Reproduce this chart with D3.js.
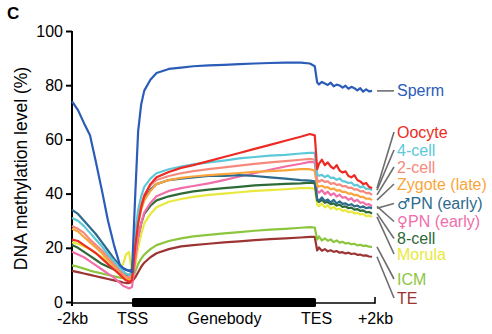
<!DOCTYPE html>
<html>
<head>
<meta charset="utf-8">
<script src="https://cdn.jsdelivr.net/npm/d3@7"></script>
<style>
  body { margin: 0; background: #fff; }
  svg { font-family: "Liberation Sans", Arial, sans-serif; }
</style>
</head>
<body>
<div id="chart"></div>
<script>
// Bin positions: 0 = -2kb, 20 = TSS, 80 = TES, 100 = +2kb
const pos = [0, 2, 4, 6, 8, 10, 12, 14, 16, 17, 18, 19, 20,
  21, 22, 23, 24, 26, 28, 32, 36, 40, 45, 50, 55, 60, 65, 70, 75, 78, 79.6,
  80.4, 81, 82, 83, 84, 85, 86, 87, 88, 89, 90, 91, 92, 93, 94, 95, 96, 97, 98, 99];

const sperm = [74, 70.8, 66, 61.5, 51.5, 41, 30, 21, 13.5, 12.5, 11.8, 11.5, 11,
  38, 63, 73, 78, 82, 84.5, 86, 86.5, 87, 87.3, 87.5, 87.8, 88, 88.2, 88.3, 88.3, 88, 87,
  81, 80.3, 81.2, 80.6, 80.1, 80.9, 79.6, 80.2, 79.9, 79.1, 79.8, 78.7, 79.4, 78.9, 78.1, 78.9, 77.6, 78.5, 77.7, 77.9];
const oocyte = [23, 22.5, 21, 19.5, 18, 16, 14, 12, 10, 9, 8, 7.5, 8,
  20, 29, 35, 39, 43.5, 46, 48, 49.5, 50.5, 52, 53.5, 55, 56.5, 58, 59.5, 61, 62, 61.5,
  49, 51, 52.5, 50.5, 51.5, 50, 49.2, 50.5, 48.5, 47.8, 48.2, 46.5, 46, 46.8, 45, 44.5, 43.5, 43.9, 42.5, 42];
const cell4 = [31, 30, 28, 25.5, 23, 20.5, 17.5, 15, 12.5, 11.5, 10.5, 10, 11,
  25, 34, 39, 42.5, 45.5, 47.5, 49, 50, 50.8, 51.5, 52.2, 53, 53.5, 54, 54.3, 54.8, 55, 55,
  47, 46.6, 46.9, 46.1, 46.7, 45.8, 45.9, 45.1, 45.6, 44.6, 44.4, 43.9, 44.1, 43, 43.2, 42.3, 42.7, 41.7, 41.9, 41.3];
const cell2 = [28, 27, 25.5, 23, 21, 19, 16.5, 14, 11.5, 10.5, 9.5, 9, 9.5,
  22, 31, 36, 39.5, 43, 45, 46.5, 47.5, 48.3, 49, 49.7, 50.3, 51, 51.5, 52, 52.5, 52.8, 52.5,
  45, 44.4, 45, 44.3, 44.5, 43.6, 43.9, 43.2, 43.4, 42.7, 42.8, 42.1, 42.2, 41.5, 41.6, 40.8, 40.9, 40.2, 40.3, 39.5];
const zygote = [27, 26, 24, 22, 20, 18, 15.5, 13, 10.5, 9.5, 8.5, 8, 8.5,
  20, 29, 34, 37.5, 41, 43.5, 45, 45.8, 46.3, 46.8, 47.2, 47.6, 48, 48.3, 48.6, 49, 49, 48.5,
  43, 42.6, 42.9, 42.2, 42.4, 41.6, 41.9, 41.1, 41.3, 40.6, 40.6, 40, 40.1, 39.4, 39.5, 38.8, 38.8, 38.1, 38.2, 37.6];
const malePN = [34, 32.5, 30, 27.5, 25, 22, 19, 16, 13.5, 12.5, 12, 11.5, 12,
  22, 30, 35, 38, 41.5, 43.5, 45, 45.5, 46, 46.5, 46.5, 46.8, 46.5, 46, 45.5, 45, 44.8, 44.5,
  38, 37.4, 38.6, 37.2, 37.8, 36.7, 37.7, 36.4, 37.1, 36.2, 36.4, 35.7, 36.1, 35.3, 35.6, 34.9, 35.3, 34.6, 34.9, 34.6];
const femalePN = [18.5, 17.5, 16.5, 15, 13.5, 12, 10.5, 9, 7, 6, 5.5, 5, 5.5,
  15, 24, 29, 33, 36.5, 39, 41, 42, 42.8, 43.8, 45, 46.3, 47.5, 48.8, 50, 51, 51.7, 51.5,
  41, 40.3, 41.3, 39.8, 40.7, 39.4, 40.1, 38.9, 39.6, 38.5, 38.7, 37.7, 38.3, 37.1, 37.7, 36.6, 36.8, 35.9, 36.1, 35.3];
const cell8 = [21, 20, 18.5, 17, 15.5, 14, 13, 12, 11, 10.5, 10, 10, 10.5,
  17, 24, 29, 32.5, 35.5, 37.5, 39, 40, 40.8, 41.5, 42, 42.5, 43, 43.3, 43.6, 43.8, 44, 43.8,
  37.5, 36.9, 37.7, 36.6, 36.9, 36.1, 36.4, 35.6, 35.9, 35.1, 35.3, 34.6, 34.8, 34.1, 34.3, 33.6, 33.8, 33.1, 33.2, 32.7];
const morula = [22, 21.5, 20.5, 19.5, 18, 16.5, 15, 14, 13, 14, 17.5, 18.5, 11,
  13, 20, 25, 29, 32.5, 35, 37, 38, 38.8, 39.5, 40, 40.5, 41, 41.3, 41.6, 42, 42, 41.8,
  36, 35.4, 36.3, 34.9, 35.7, 34.4, 35.1, 34.1, 34.5, 33.6, 33.9, 33.1, 33.4, 32.7, 32.9, 32.3, 32.5, 31.7, 31.9, 31.4];
const icm = [13.5, 13, 12.3, 11.6, 11, 10.5, 10, 9.5, 9, 8.8, 8.5, 8.5, 9,
  11, 14, 16, 17.5, 19.5, 21, 22.5, 23.5, 24.2, 24.8, 25.3, 25.8, 26.3, 26.7, 27, 27.4, 27.6, 27.5,
  23, 24.2, 22.7, 23.5, 22.6, 23.1, 22.1, 22.7, 21.9, 22.2, 21.6, 21.8, 21.3, 21.5, 20.9, 21.1, 20.7, 20.8, 20.4, 20.3];
const te = [11.5, 11, 10.5, 10, 9.5, 9, 8.5, 8, 7.5, 7.2, 7, 7, 7.5,
  9, 11, 13, 14.5, 16.5, 18, 19.5, 20.5, 21, 21.5, 22, 22.4, 22.8, 23.2, 23.5, 23.8, 24, 24,
  19, 20.1, 18.9, 19.5, 18.7, 19.1, 18.5, 18.8, 18.2, 18.4, 17.9, 18.2, 17.7, 17.9, 17.4, 17.5, 17.1, 17.2, 16.8, 16.7];

const seriesNames = ["Sperm", "Oocyte", "4-cell", "2-cell", "Zygote (late)", "♂PN (early)",
  "♀PN (early)", "8-cell", "Morula", "ICM", "TE"];
const seriesValues = [sperm, oocyte, cell4, cell2, zygote, malePN, femalePN, cell8, morula, icm, te];
const colors = ["#2b5cb8", "#ee2a24", "#5cc8d8", "#f58a7c", "#f9a53c", "#2c6a8e",
  "#f06eaa", "#2e6a38", "#e9e83c", "#8cc63f", "#9b3533"];

const xTickPos = [0, 20, 50, 80, 100];
const xTickLabels = ["-2kb", "TSS", "Genebody", "TES", "+2kb"];
const yTicks = [0, 20, 40, 60, 80, 100];

// legend label vertical positions (layout only)
const labelY = [null, 132, 150, 167, 184, 203.5, 221.5, 238.5, 254, 279, 298];

const W = 492, H = 334;
const svg = d3.select("#chart").append("svg")
    .attr("width", W)
    .attr("height", H);

// piecewise x scale so the gene body gets its own width
const x = d3.scaleLinear()
    .domain([0, 20, 80, 100])
    .range([72, 132, 316, 375]);

const y = d3.scaleLinear()
    .domain([0, 100])
    .range([302, 31]);

// panel letter
svg.append("text")
    .attr("x", 7).attr("y", 19)
    .attr("font-size", 17).attr("font-weight", "bold")
    .text("C");

// y axis title
svg.append("text")
    .attr("transform", `translate(27,${(y(0) + y(100)) / 2 + 2}) rotate(-90)`)
    .attr("text-anchor", "middle")
    .attr("font-size", 17.5)
    .text("DNA methylation level (%)");

// y axis
const yAxis = svg.append("g")
    .attr("transform", "translate(72,0)")
    .call(d3.axisLeft(y).tickValues(yTicks).tickSize(6).tickPadding(3).tickFormat(d3.format("d")));
yAxis.select(".domain").attr("stroke-width", 2).attr("d", `M0,${y(100)}V${y(0) + 4}`);
yAxis.selectAll(".tick line").attr("stroke-width", 2);
yAxis.selectAll(".tick text").attr("font-size", 16).attr("fill", "#000");

// x axis
const xAxis = svg.append("g")
    .attr("transform", `translate(0,${y(0) + 1})`)
    .call(d3.axisBottom(x).tickValues(xTickPos).tickSize(0).tickPadding(10)
        .tickFormat((d, i) => xTickLabels[i]));
xAxis.select(".domain").attr("stroke-width", 1.6).attr("d", `M${x(0)},0H${x(100)}`);
xAxis.selectAll(".tick text").attr("font-size", 16).attr("fill", "#000");

// +2kb end tick
svg.append("line")
    .attr("x1", x(100)).attr("x2", x(100))
    .attr("y1", y(0) - 5).attr("y2", y(0) + 1.8)
    .attr("stroke", "#000").attr("stroke-width", 1.6);

// gene body bar
svg.append("rect")
    .attr("x", x(20)).attr("y", y(0) - 4)
    .attr("width", x(80) - x(20)).attr("height", 9)
    .attr("rx", 1.5)
    .attr("fill", "#000");

// lines
const line = d3.line()
    .x((d, i) => x(pos[i]))
    .y(d => y(d));

const order = d3.range(seriesValues.length).reverse();
svg.selectAll(".series")
    .data(order)
    .enter()
    .append("path")
    .attr("class", "series")
    .attr("d", i => line(seriesValues[i]))
    .attr("fill", "none")
    .attr("stroke", i => colors[i])
    .attr("stroke-width", 2.2)
    .attr("stroke-linejoin", "round");

// leader lines and labels
const lx0 = x(100) + 2, lx1 = 394;
seriesNames.forEach((name, i) => {
    const vals = seriesValues[i];
    const yEnd = y(vals[vals.length - 1]);
    const ly = labelY[i] === null ? yEnd : labelY[i];
    svg.append("line")
        .attr("x1", lx0).attr("y1", yEnd)
        .attr("x2", lx1).attr("y2", ly)
        .attr("stroke", "#6e6e6e")
        .attr("stroke-width", 1.6);
    const t = svg.append("text")
        .attr("x", lx1 + 3).attr("y", ly)
        .attr("dy", "0.35em")
        .attr("font-size", 16)
        .attr("fill", colors[i]);
    const sym = name.match(/^[♂♀]/);
    if (sym) {
        // sex symbols in a font that has them at full size
        t.append("tspan")
            .attr("font-family", "DejaVu Sans")
            .attr("font-size", 15)
            .text(sym[0]);
        t.append("tspan").text(name.slice(1));
    } else {
        t.text(name);
    }
});
</script>
</body>
</html>
